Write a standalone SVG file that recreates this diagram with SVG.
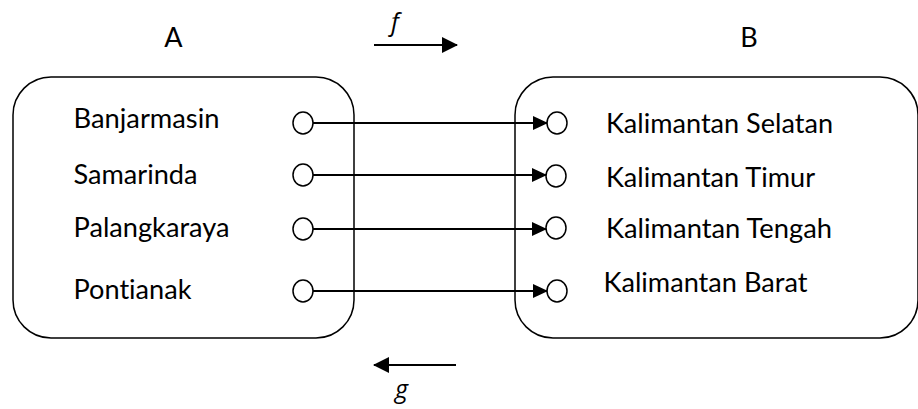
<svg xmlns="http://www.w3.org/2000/svg" width="918" height="409" viewBox="0 0 918 409">
<style>
.box{fill:none;stroke:#000;stroke-width:1.5}
.pt{fill:#fff;stroke:#000;stroke-width:1.5}
.lbl{font-family:Lato,"Open Sans",sans-serif;font-size:27px;fill:#000;font-variant-ligatures:none}
.it{font-family:"Open Sans",sans-serif;font-style:italic;font-size:25px;fill:#000}
.ln{stroke:#000;stroke-width:2;fill:none}
</style>
<defs>
<marker id="ah" markerWidth="15" markerHeight="14" refX="14" refY="7" orient="auto" markerUnits="userSpaceOnUse">
<path d="M0,0 L15,7 L0,14 Z" fill="#000"/>
</marker>
<marker id="ah2" markerWidth="16" markerHeight="16" refX="15" refY="8" orient="auto" markerUnits="userSpaceOnUse">
<path d="M0,0 L16,8 L0,16 Z" fill="#000"/>
</marker>
</defs>
<g id="setA">
<rect class="box" x="13" y="77" width="341" height="261" rx="38" ry="38"/>
<text class="lbl" x="173.5" y="47" text-anchor="middle">A</text>
</g>
<g id="setB">
<rect class="box" x="515" y="77" width="403" height="261" rx="38" ry="38"/>
<text class="lbl" x="749" y="47" text-anchor="middle">B</text>
</g>
<g id="a1"><ellipse class="pt" cx="303" cy="123" rx="10" ry="11"/><text class="lbl" x="73.5" y="127.5" textLength="146" lengthAdjust="spacingAndGlyphs">Banjarmasin</text></g>
<g id="a2"><ellipse class="pt" cx="303" cy="175" rx="10" ry="11"/><text class="lbl" x="73.5" y="184" textLength="124" lengthAdjust="spacingAndGlyphs">Samarinda</text></g>
<g id="a3"><ellipse class="pt" cx="303" cy="229" rx="10" ry="11"/><text class="lbl" x="73.5" y="237" textLength="156" lengthAdjust="spacingAndGlyphs">Palangkaraya</text></g>
<g id="a4"><ellipse class="pt" cx="303" cy="291" rx="10" ry="11"/><text class="lbl" x="73.5" y="298.5" textLength="118" lengthAdjust="spacingAndGlyphs">Pontianak</text></g>
<g id="b1"><ellipse class="pt" cx="557" cy="123" rx="10" ry="11"/><text class="lbl" x="606" y="133" textLength="227" lengthAdjust="spacingAndGlyphs">Kalimantan Selatan</text></g>
<g id="b2"><ellipse class="pt" cx="556" cy="176" rx="10" ry="11"/><text class="lbl" x="606" y="187" textLength="209" lengthAdjust="spacingAndGlyphs">Kalimantan Timur</text></g>
<g id="b3"><ellipse class="pt" cx="556" cy="228" rx="10" ry="11"/><text class="lbl" x="606" y="238" textLength="226" lengthAdjust="spacingAndGlyphs">Kalimantan Tengah</text></g>
<g id="b4"><ellipse class="pt" cx="557" cy="291" rx="10" ry="11"/><text class="lbl" x="603.5" y="292" textLength="204" lengthAdjust="spacingAndGlyphs">Kalimantan Barat</text></g>
<g id="connectors">
<line class="ln" x1="313" y1="123" x2="547" y2="123" marker-end="url(#ah)"/>
<line class="ln" x1="313" y1="175" x2="546" y2="175" marker-end="url(#ah)"/>
<line class="ln" x1="313" y1="229" x2="546" y2="229" marker-end="url(#ah)"/>
<line class="ln" x1="313" y1="291" x2="547" y2="291" marker-end="url(#ah)"/>
<line class="ln" x1="374" y1="45" x2="457" y2="45" marker-end="url(#ah2)"/>
<line class="ln" x1="456" y1="365" x2="374" y2="365" marker-end="url(#ah2)"/>
</g>
<g id="labels">
<text class="it" x="391" y="31">f</text>
<text class="it" x="395" y="398">g</text>
</g>
</svg>
